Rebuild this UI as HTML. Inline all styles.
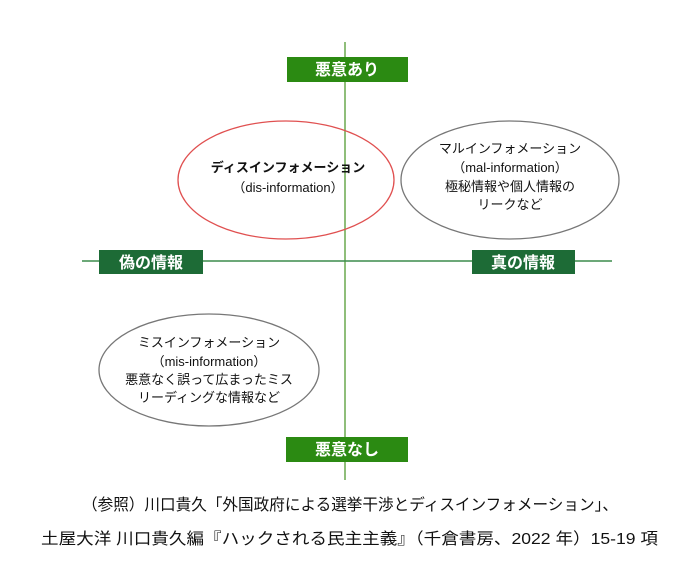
<!DOCTYPE html>
<html><head><meta charset="utf-8"><style>
body{margin:0;background:#fff;}
svg text{font-family:"Liberation Sans","Noto Sans CJK JP",sans-serif;}
</style></head><body>
<svg width="692" height="567" viewBox="0 0 692 567" xmlns="http://www.w3.org/2000/svg">
<line x1="345" y1="42" x2="345" y2="480" stroke="#6aa84f" stroke-width="1.5"/>
<line x1="82" y1="261" x2="612" y2="261" stroke="#3c8c4c" stroke-width="1.5"/>
<ellipse cx="286" cy="180" rx="108" ry="59" fill="none" stroke="#e05050" stroke-width="1.3"/>
<ellipse cx="510" cy="180" rx="109" ry="59" fill="#fff" stroke="#777" stroke-width="1.3"/>
<ellipse cx="209" cy="370" rx="110" ry="56" fill="#fff" stroke="#777" stroke-width="1.3"/>
<rect x="287" y="57" width="121" height="25" fill="#2b8a12"/>
<rect x="99" y="250" width="104" height="24" fill="#1d6b36"/>
<rect x="472" y="250" width="103" height="24" fill="#1d6b36"/>
<rect x="286" y="437" width="122" height="25" fill="#2b8a12"/>
<g fill="#fff" font-weight="bold" font-size="16" text-anchor="middle">
<text x="347" y="75">悪意あり</text>
<text x="151" y="268">偽の情報</text>
<text x="523" y="268">真の情報</text>
<text x="347" y="455">悪意なし</text>
</g>
<g fill="#111" font-size="13" text-anchor="middle">
<text x="288" y="172" font-weight="bold">ディスインフォメーション</text>
<text x="288" y="192">（dis-information）</text>
<text x="510" y="153">マルインフォメーション</text>
<text x="510" y="172">（mal-information）</text>
<text x="510" y="191">極秘情報や個人情報の</text>
<text x="510" y="209">リークなど</text>
<text x="209" y="347">ミスインフォメーション</text>
<text x="209" y="366">（mis-information）</text>
<text x="209" y="384">悪意なく誤って広まったミス</text>
<text x="209" y="402">リーディングな情報など</text>
</g>
<g fill="#111" font-size="16">
<text x="82" y="510" textLength="536" lengthAdjust="spacingAndGlyphs">（参照）川口貴久「外国政府による選挙干渉とディスインフォメーション」、</text>
<text x="41" y="544" textLength="617" lengthAdjust="spacingAndGlyphs">土屋大洋  川口貴久編『ハックされる民主主義』（千倉書房、2022 年）15-19 項</text>
</g>
</svg>
</body></html>
